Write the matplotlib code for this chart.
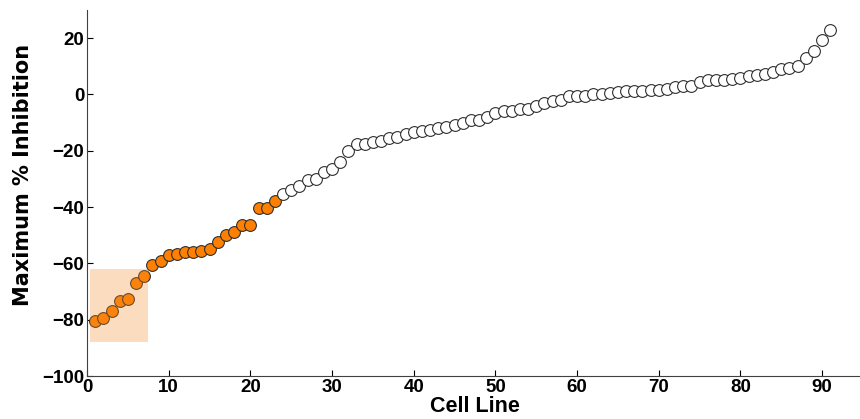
import matplotlib
matplotlib.use("Agg")
from matplotlib import pyplot
from matplotlib.patches import Rectangle
import numpy as np

# maximum % inhibition per cell line, sorted
inhibition = [
    -80.5, -79.5, -77.0, -73.5, -72.5, -67.0, -64.5, -60.5, -59.0, -57.0,
    -56.5, -56.0, -56.0, -55.5, -55.0, -52.5, -50.0, -49.0, -46.5, -46.5,
    -40.5, -40.5, -38.0, -35.5, -34.0, -32.5, -30.5, -30.0, -27.5, -26.5,
    -24.0, -20.0, -17.5, -17.5, -17.0, -16.5, -15.5, -15.0, -14.0, -13.5,
    -13.0, -12.5, -12.0, -11.5, -11.0, -10.0, -9.2, -9.0, -8.0, -6.5,
    -6.0, -5.7, -5.3, -5.0, -4.0, -3.0, -2.5, -2.0, -0.7, -0.5,
    -0.4, 0.0, 0.2, 0.5, 1.0, 1.2, 1.2, 1.3, 1.5, 1.6,
    2.0, 2.5, 3.0, 3.0, 4.5, 5.0, 5.0, 5.3, 5.5, 6.0,
    6.5, 7.0, 7.2, 8.0, 9.0, 9.5, 10.0, 13.0, 15.5, 19.5,
    23.0,
]
n_sensitive = 23
box_x = (0.4, 7.5)
box_y = (-88.0, -62.0)

cell_line = np.arange(1, len(inhibition) + 1)
inhibition = np.array(inhibition)

pyplot.rcParams['font.family'] = ['Liberation Sans', 'DejaVu Sans']
pyplot.rcParams['font.weight'] = 'bold'

fig = pyplot.figure(figsize=(8.6, 4.19), dpi=100)
ax = fig.add_axes([87 / 860, 1 - 376 / 419, 776 / 860, 366 / 419])

ax.scatter(cell_line[:n_sensitive], inhibition[:n_sensitive], s=72,
           facecolor='#ff8000', edgecolor='#303030', linewidth=0.8, zorder=3)
ax.scatter(cell_line[n_sensitive:], inhibition[n_sensitive:], s=72,
           facecolor='white', edgecolor='#303030', linewidth=0.8, zorder=3)

ax.add_patch(Rectangle((box_x[0], box_y[0]), box_x[1] - box_x[0], box_y[1] - box_y[0],
                       facecolor='#f28c28', alpha=0.3, edgecolor='none', zorder=4))

ax.set_xlim(0, 95)
ax.set_ylim(-100, 30)
ax.set_xticks(range(0, 91, 10))
ax.set_yticks(range(-100, 21, 20))
ax.tick_params(direction='in', length=4, width=0.8, labelsize=13.5, pad=2)
for lbl in ax.get_xticklabels() + ax.get_yticklabels():
    lbl.set_fontweight('bold')
for side in ('top', 'right'):
    ax.spines[side].set_visible(False)
for side in ('left', 'bottom'):
    ax.spines[side].set_linewidth(0.8)
    ax.spines[side].set_color('#404040')

ax.set_xlabel('Cell Line', fontsize=15.5, fontweight='bold', labelpad=0)
ax.set_ylabel('Maximum % Inhibition', fontsize=15, fontweight='bold',
              family='DejaVu Sans')
ax.yaxis.set_label_coords(-0.07, 0.55)

fig.savefig('out.png', dpi=100)
